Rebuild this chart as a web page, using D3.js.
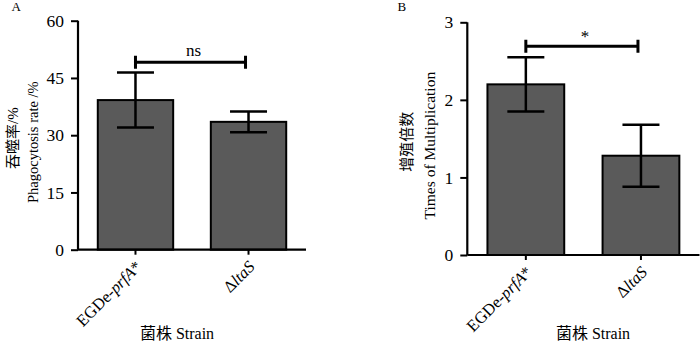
<!DOCTYPE html>
<html>
<head>
<meta charset="utf-8">
<script src="https://cdn.jsdelivr.net/npm/d3@7"></script>
<style>
  html, body { margin: 0; padding: 0; background: #fff; }
  svg { display: block; }
  text, tspan { font-family: "Liberation Serif", "Times New Roman", serif; fill: #000; }
  .cjk { font-family: "Noto Sans CJK SC", sans-serif; }
</style>
</head>
<body>
<svg id="chart" width="700" height="345"></svg>
<script>
// ---------- data ----------
const categories = ["EGDe-prfA*", "ΔltaS"];
// label pieces: [text, italic]
const categoryLabelParts = [
  [["EGDe-", false], ["prfA", true], ["*", false]],
  [["Δ", false], ["ltaS", true]]
];
const phagoMeans = [39.2, 33.5];
const phagoErrors = [7.2, 2.7];
const phagoTicks = [0, 15, 30, 45, 60];
const multMeans = [2.20, 1.28];
const multErrors = [0.35, 0.40];
const multTicks = [0, 1, 2, 3];
const panelLetters = ["A", "B"];
const yTitlesCn = [["吞噬率", "/%"], ["增殖倍数", ""]];
const yTitlesEn = ["Phagocytosis rate /%", "Times of Multiplication"];
const xTitleCn = "菌株";
const xTitleEn = " Strain";
const sigLabels = ["ns", "*"];
const sigLevels = [49.1, 2.69];

// ---------- drawing ----------
const svg = d3.select("#chart");
const BAR_FILL = "#5a5a5a";

function drawPanel(opt) {
  const g = svg.append("g");
  const y = d3.scaleLinear().domain(opt.domain).range([opt.y0, opt.y1]);
  const x = d3.scaleBand().domain(categories).range([opt.x0, opt.x1])
    .paddingInner(0.333).paddingOuter(0.175);

  // bars
  g.selectAll("rect.bar").data(categories).join("rect")
    .attr("class", "bar")
    .attr("x", d => x(d))
    .attr("width", x.bandwidth())
    .attr("y", (d, i) => y(opt.means[i]))
    .attr("height", (d, i) => y(0) - y(opt.means[i]))
    .attr("fill", BAR_FILL)
    .attr("stroke", "#000")
    .attr("stroke-width", 2);

  // error bars
  const capW = 37;
  categories.forEach((c, i) => {
    const cx = x(c) + x.bandwidth() / 2;
    const hi = y(opt.means[i] + opt.errs[i]);
    const lo = y(opt.means[i] - opt.errs[i]);
    g.append("line").attr("x1", cx).attr("x2", cx).attr("y1", hi).attr("y2", lo)
      .attr("stroke", "#000").attr("stroke-width", 2.5);
    [hi, lo].forEach(v => {
      g.append("line").attr("x1", cx - capW / 2).attr("x2", cx + capW / 2)
        .attr("y1", v).attr("y2", v).attr("stroke", "#000").attr("stroke-width", 2.5);
    });
  });

  // y axis
  const yAxis = d3.axisLeft(y).tickValues(opt.ticks).tickSize(7).tickPadding(7)
    .tickFormat(d3.format("d"));
  const ya = g.append("g").attr("transform", `translate(${opt.x0},0)`).call(yAxis);
  ya.attr("font-family", null).attr("font-size", null);
  ya.select(".domain").attr("d", `M0,${y(opt.domain[0])}V${y(opt.domain[1])}`)
    .attr("stroke-width", 2.2);
  ya.selectAll(".tick line").attr("stroke-width", 2);
  ya.selectAll(".tick text").attr("font-size", 17.5);

  // x axis
  const xAxis = d3.axisBottom(x).tickSize(5).tickFormat("");
  const xa = g.append("g").attr("transform", `translate(0,${opt.y0})`).call(xAxis);
  xa.select(".domain").attr("d", `M${opt.x0},0H${opt.x1}`).attr("stroke-width", 2.2);
  xa.selectAll(".tick line").attr("stroke-width", 2);

  // x tick labels, rotated
  categories.forEach((c, i) => {
    const cx = x(c) + x.bandwidth() / 2;
    const t = g.append("text")
      .attr("transform", `translate(${cx + 3},${opt.y0 + 14}) rotate(-45)`)
      .attr("text-anchor", "end")
      .attr("dy", "0.35em")
      .attr("font-size", 16.5);
    categoryLabelParts[i].forEach(p => {
      t.append("tspan").text(p[0]).attr("font-style", p[1] ? "italic" : "normal");
    });
  });

  // significance bracket
  const bx1 = x(categories[0]) + x.bandwidth() / 2;
  const bx2 = x(categories[1]) + x.bandwidth() / 2 - 3;
  const by = y(opt.sig);
  g.append("path")
    .attr("d", `M${bx1},${by - 6.5}V${by + 6.5}M${bx1},${by}H${bx2}M${bx2},${by - 6.5}V${by + 6.5}`)
    .attr("fill", "none").attr("stroke", "#000").attr("stroke-width", 3);
  g.append("text").attr("x", (bx1 + bx2) / 2 + 3).attr("y", by + opt.sigDy)
    .attr("text-anchor", "middle").attr("font-size", 17).text(opt.sigLabel);

  // y title (two lines)
  const ymid = (y(opt.domain[0]) + y(opt.domain[1])) / 2;
  const t1 = g.append("text")
    .attr("transform", `translate(${opt.t1x},${ymid + 3}) rotate(-90)`)
    .attr("text-anchor", "middle").attr("font-size", 15);
  t1.append("tspan").attr("class", "cjk").text(opt.titleCn[0]);
  if (opt.titleCn[1]) t1.append("tspan").text(opt.titleCn[1]);
  g.append("text")
    .attr("transform", `translate(${opt.t2x},${ymid + 7}) rotate(-90)`)
    .attr("text-anchor", "middle").attr("font-size", opt.t2size).text(opt.titleEn);

  // x title
  const xt = g.append("text").attr("x", opt.xtx).attr("y", 338.5)
    .attr("text-anchor", "middle").attr("font-size", 16);
  xt.append("tspan").attr("class", "cjk").text(xTitleCn);
  xt.append("tspan").text(xTitleEn);

  // panel letter
  g.append("text").attr("x", opt.lx).attr("y", 11)
    .attr("font-size", 13).text(opt.letter);
}

drawPanel({
  domain: [0, 60], ticks: phagoTicks, means: phagoMeans, errs: phagoErrors,
  x0: 78, x1: 306, y0: 249.7, y1: 20.7,
  sig: sigLevels[0], sigLabel: sigLabels[0], sigDy: -6,
  titleCn: yTitlesCn[0], titleEn: yTitlesEn[0],
  t1x: 18, t2x: 38, t2size: 14.5, xtx: 177, lx: 11.5, letter: panelLetters[0]
});

drawPanel({
  domain: [0, 3], ticks: multTicks, means: multMeans, errs: multErrors,
  x0: 467.3, x1: 699.5, y0: 255, y1: 22.3,
  sig: sigLevels[1], sigLabel: sigLabels[1], sigDy: -4,
  titleCn: yTitlesCn[1], titleEn: yTitlesEn[1],
  t1x: 412, t2x: 435, t2size: 15.5, xtx: 593, lx: 397.5, letter: panelLetters[1]
});
</script>
</body>
</html>
